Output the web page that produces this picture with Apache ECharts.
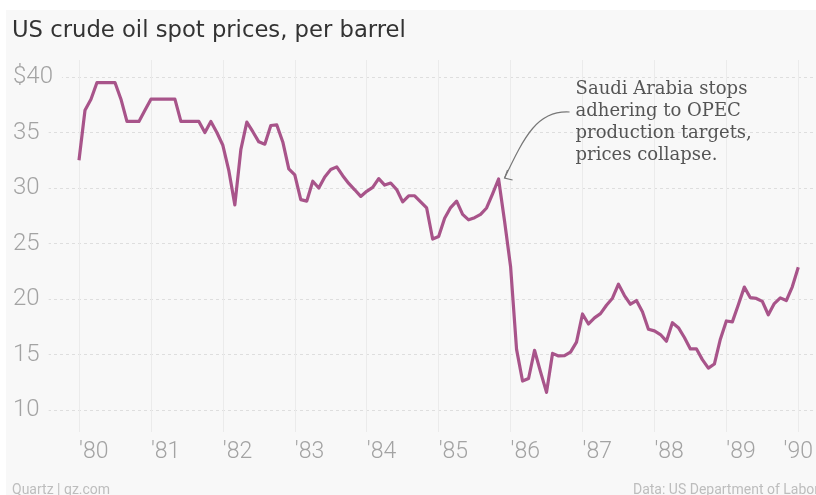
<!DOCTYPE html>
<html>
<head>
<meta charset="utf-8">
<script src="https://cdn.jsdelivr.net/npm/echarts@6/dist/echarts.min.js"></script>
<style>
  html, body { margin: 0; padding: 0; background: #fff; }
  #wrap { position: relative; width: 816px; height: 495px; overflow: hidden; }
  #bg { position: absolute; left: 6px; top: 10px; right: 0; bottom: 0; background: #f8f8f8; }
  #main { position: absolute; left: 0; top: 0; width: 816px; height: 495px; }
</style>
</head>
<body>
<div id="wrap"><div id="bg"></div><div id="main"></div></div>
<script>
// monthly spot price, Jan 1980 .. Jan 1990 ($ per barrel)
var startYear = 1980;
var prices = [
  32.50, 37.00, 38.00, 39.50, 39.50, 39.50, 39.50, 38.00, 36.00, 36.00, 36.00, 37.00, // 1980
  38.00, 38.00, 38.00, 38.00, 38.00, 36.00, 36.00, 36.00, 36.00, 35.00, 36.00, 35.00, // 1981
  33.85, 31.56, 28.48, 33.45, 35.93, 35.07, 34.16, 33.95, 35.63, 35.68, 34.15, 31.72, // 1982
  31.18, 28.95, 28.82, 30.61, 30.00, 31.00, 31.66, 31.90, 31.11, 30.41, 29.84, 29.24, // 1983
  29.70, 30.05, 30.85, 30.26, 30.45, 29.86, 28.75, 29.30, 29.30, 28.75, 28.20, 25.40, // 1984
  25.63, 27.27, 28.24, 28.81, 27.62, 27.13, 27.33, 27.62, 28.20, 29.48, 30.81, 27.00, // 1985
  22.93, 15.46, 12.61, 12.84, 15.38, 13.43, 11.59, 15.10, 14.87, 14.90, 15.22, 16.11, // 1986
  18.65, 17.75, 18.30, 18.68, 19.44, 20.07, 21.34, 20.31, 19.53, 19.86, 18.85, 17.28, // 1987
  17.13, 16.80, 16.20, 17.86, 17.42, 16.53, 15.50, 15.52, 14.54, 13.77, 14.14, 16.38, // 1988
  18.02, 17.94, 19.48, 21.07, 20.12, 20.05, 19.78, 18.58, 19.59, 20.10, 19.86, 21.10, // 1989
  22.86                                                                               // 1990
];
var yearLabels = ["'80", "'81", "'82", "'83", "'84", "'85", "'86", "'87", "'88", "'89", "'90"];
var priceTicks = [10, 15, 20, 25, 30, 35, 40];

var annotationLines = ['Saudi Arabia stops', 'adhering to OPEC', 'production targets,', 'prices collapse.'];
var annotationIndex = 70; // Nov 1985 peak

var seriesData = prices.map(function (p, i) { return [startYear + i / 12, p]; });

// vertical placement: 40 -> y 77, 10 -> y 410 ; plot area spans y 60 .. 432
var yMinTick = priceTicks[0], yMaxTick = priceTicks[priceTicks.length - 1];
var pxPerUnit = (410 - 77) / (yMaxTick - yMinTick);
var plotMax = yMaxTick + (77 - 60) / pxPerUnit;
var plotMin = yMinTick - (432 - 410) / pxPerUnit;

var labelFont = 'Roboto, "Liberation Sans", sans-serif';

var chart = echarts.init(document.getElementById('main'), null, { renderer: 'canvas' });

var option = {
  animation: false,
  backgroundColor: 'transparent',
  title: {
    text: 'US crude oil spot prices, per barrel',
    left: 12, top: 20, padding: 0,
    textStyle: { fontFamily: '"DejaVu Sans", Roboto, sans-serif', fontSize: 22.7, fontWeight: 'normal', color: '#333' }
  },
  grid: [
    { left: 79, right: 14, top: 60, bottom: 495 - 432 },
    { left: 12, right: 1, top: 77, bottom: 495 - 410 }
  ],
  xAxis: [
    {
      type: 'value', gridIndex: 0,
      min: startYear, max: startYear + 10, interval: 1,
      axisLine: { show: false }, axisTick: { show: false },
      splitLine: { show: true, lineStyle: { color: '#ebebeb', width: 1 } },
      axisLabel: {
        margin: 9,
        align: 'left',
        alignMaxLabel: 'center',
        fontFamily: labelFont, fontWeight: 300, fontSize: 23, color: '#a3a3a3',
        formatter: function (v) { return yearLabels[Math.round(v - startYear)]; }
      }
    },
    { type: 'value', gridIndex: 1, show: false, min: 0, max: 1 }
  ],
  yAxis: [
    { type: 'value', gridIndex: 0, show: false, min: plotMin, max: plotMax, splitLine: { show: false } },
    {
      type: 'value', gridIndex: 1, position: 'left', min: yMinTick, max: yMaxTick, interval: 5, z: 0,
      axisLine: { show: false }, axisTick: { show: false }, axisLabel: { show: false },
      splitLine: { show: true, lineStyle: { color: '#dedede', type: [3, 3], width: 1 } }
    },
    {
      type: 'value', gridIndex: 1, position: 'left', offset: 0, min: yMinTick, max: yMaxTick, interval: 5, z: 5,
      axisLine: { show: false }, axisTick: { show: false }, splitLine: { show: false },
      axisLabel: {
        inside: true, margin: 0, align: 'left',
        fontFamily: labelFont, fontWeight: 300, fontSize: 24, color: '#a3a3a3',
        backgroundColor: '#f8f8f8', padding: [2, 9, 2, 1],
        formatter: function (v) { return v === yMaxTick ? '$' + v : String(v); }
      }
    }
  ],
  series: [
    {
      type: 'line', xAxisIndex: 0, yAxisIndex: 0,
      data: seriesData,
      showSymbol: false, symbol: 'none',
      lineStyle: { color: '#a8548a', width: 3.2, join: 'round' },
      z: 3
    }
  ]
};
chart.setOption(option);

// annotation anchored on the Nov 1985 peak
var tip = chart.convertToPixel({ gridIndex: 0 }, seriesData[annotationIndex]);
var tx = tip[0] + 6, ty = tip[1] - 1;
var textLeft = tip[0] + 77, textTop = tip[1] - 101;
var curveStart = [textLeft - 6, textTop + 34];

chart.setOption({
  graphic: [
    {
      type: 'text', left: textLeft, top: textTop, z: 10,
      style: {
        text: annotationLines.join('\n'),
        fontFamily: '"DejaVu Serif", "Liberation Serif", serif', fontSize: 18, lineHeight: 22,
        fill: '#555'
      }
    },
    {
      type: 'bezierCurve', z: 10,
      shape: {
        x1: curveStart[0], y1: curveStart[1],
        cpx1: curveStart[0] - 32, cpy1: curveStart[1] - 2,
        cpx2: tx + 20, cpy2: ty - 42,
        x2: tx, y2: ty
      },
      style: { stroke: '#777', lineWidth: 1.2, fill: null }
    },
    {
      type: 'polyline', z: 10,
      shape: { points: [[tx + 3, ty - 8], [tx, ty], [tx + 8, ty + 2]] },
      style: { stroke: '#777', lineWidth: 1.2, fill: null }
    },
    {
      type: 'text', left: 12, top: 483, z: 10,
      style: { text: 'Quartz | qz.com', fontFamily: labelFont, fontSize: 14, fill: '#bdbdbd' }
    },
    {
      type: 'text', right: -3, top: 483, z: 10,
      style: { text: 'Data: US Department of Labor', fontFamily: labelFont, fontSize: 14, fill: '#bdbdbd' }
    }
  ]
});
</script>
</body>
</html>
